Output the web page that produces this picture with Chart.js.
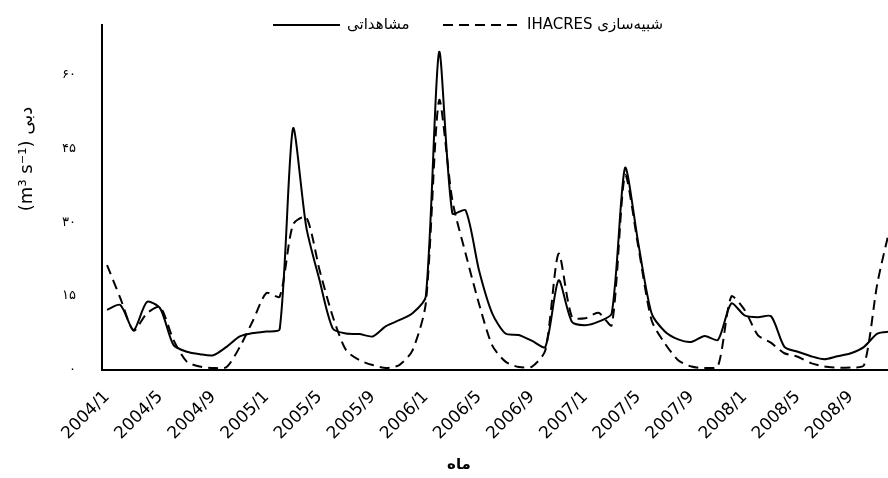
<!DOCTYPE html>
<html>
<head>
<meta charset="utf-8">
<script src="https://cdn.jsdelivr.net/npm/chart.js@4.4.1/dist/chart.umd.min.js"></script>
<style>
    html, body { margin: 0; padding: 0; background: #fff; }
    canvas { display: block; }
</style>
</head>
<body>
<canvas id="chart" width="888" height="478"></canvas>
<script>
    // monthly discharge, 2004/1 .. 2008/12
    var months = [
        '2004/1', '2004/2', '2004/3', '2004/4', '2004/5', '2004/6', '2004/7', '2004/8', '2004/9', '2004/10', '2004/11', '2004/12',
        '2005/1', '2005/2', '2005/3', '2005/4', '2005/5', '2005/6', '2005/7', '2005/8', '2005/9', '2005/10', '2005/11', '2005/12',
        '2006/1', '2006/2', '2006/3', '2006/4', '2006/5', '2006/6', '2006/7', '2006/8', '2006/9', '2006/10', '2006/11', '2006/12',
        '2007/1', '2007/2', '2007/3', '2007/4', '2007/5', '2007/6', '2007/7', '2007/8', '2007/9', '2007/10', '2007/11', '2007/12',
        '2008/1', '2008/2', '2008/3', '2008/4', '2008/5', '2008/6', '2008/7', '2008/8', '2008/9', '2008/10', '2008/11', '2008/12'
    ];

    var observed = [
        12.2, 13.2, 8.1, 13.8, 12.5, 5.1, 3.7, 3.2, 3.0, 4.7, 6.8, 7.5,
        7.8, 8.3, 49, 29, 18.2, 8.4, 7.4, 7.3, 6.8, 8.9, 10.1, 11.5,
        14.9, 64.5, 31.8, 32.4, 20.3, 11.5, 7.4, 7.1, 5.9, 4.7, 18.2, 9.8,
        9.1, 9.8, 11.5, 41, 25.7, 11.5, 7.8, 6.2, 5.7, 6.9, 6.1, 13.5,
        11.1, 10.7, 10.9, 4.7, 3.7, 2.8, 2.2, 2.8, 3.4, 4.7, 7.4, 7.8
    ];

    var simulated = [
        21.3, 14.6, 8.0, 11.5, 12.8, 6.1, 1.7, 0.7, 0.4, 0.6, 4.7, 10.1,
        15.6, 14.9, 29.5, 31, 20.3, 10.8, 4.0, 2.0, 1.0, 0.4, 1.0, 4.0,
        13.5, 54.7, 34.4, 23.6, 13.5, 5.0, 1.7, 0.6, 0.7, 4.0, 23.6, 10.8,
        10.5, 11.6, 9.1, 39.5, 25, 10.1, 5.4, 2.0, 0.7, 0.4, 0.8, 14.9,
        12.2, 7.1, 5.5, 3.4, 2.7, 1.4, 0.7, 0.5, 0.5, 1.0, 17.6, 29.5
    ];

    // x ticks every 4 months
    var xTickIndex = [0, 4, 8, 12, 16, 20, 24, 28, 32, 36, 40, 44, 48, 52, 56];
    var yTickValues = [0, 15, 30, 45, 60];
    var yTickLabels = ['۰', '۱۵', '۳۰', '۴۵', '۶۰'];

    var seriesNames = ['مشاهداتی', 'IHACRES شبیه‌سازی'];
    var yTitle = '(m³ s⁻¹) دبی';
    var xTitle = 'ماه';

    var FONT = "'DejaVu Sans', 'Liberation Sans', sans-serif";

    function toPoints(values) {
        return values.map(function (v, i) { return { x: i, y: v }; });
    }

    // legend and axis titles, drawn by hand so they sit where the original has them
    var decorations = {
        id: 'decorations',
        afterDraw: function (chart) {
            var ctx = chart.ctx;
            var sets = chart.data.datasets;
            var legendY = 25;
            var items = [
                { x0: 273, x1: 340, tx: 347 },
                { x0: 443, x1: 520, tx: 527 }
            ];

            ctx.save();
            ctx.fillStyle = '#000';
            ctx.font = '15px ' + FONT;
            ctx.textBaseline = 'middle';
            ctx.textAlign = 'left';
            items.forEach(function (it, i) {
                ctx.beginPath();
                ctx.strokeStyle = '#000';
                ctx.lineWidth = sets[i].borderWidth;
                ctx.setLineDash(sets[i].borderDash || []);
                ctx.moveTo(it.x0, legendY);
                ctx.lineTo(it.x1, legendY);
                ctx.stroke();
                ctx.fillText(sets[i].label, it.tx, legendY);
            });
            ctx.setLineDash([]);

            // y title
            ctx.save();
            ctx.translate(27, 159);
            ctx.rotate(-Math.PI / 2);
            ctx.textAlign = 'center';
            ctx.font = '18px ' + FONT;
            ctx.fillText(yTitle, 0, 0);
            ctx.restore();

            // x title
            ctx.textAlign = 'center';
            ctx.font = 'bold 15px ' + FONT;
            ctx.fillText(xTitle, 459, 465);
            ctx.restore();
        }
    };

    var chart = new Chart(document.getElementById('chart').getContext('2d'), {
        type: 'line',
        data: {
            datasets: [{
                label: seriesNames[0],
                data: toPoints(observed),
                borderColor: '#000',
                borderWidth: 2,
                pointRadius: 0,
                tension: 0.25,
                fill: false
            }, {
                label: seriesNames[1],
                data: toPoints(simulated),
                borderColor: '#000',
                borderWidth: 2,
                borderDash: [10, 6],
                pointRadius: 0,
                tension: 0.25,
                fill: false
            }]
        },
        options: {
            responsive: false,
            animation: false,
            devicePixelRatio: 1,
            layout: {
                padding: { top: 25, left: 0, right: 0, bottom: 0 }
            },
            plugins: {
                legend: { display: false },
                tooltip: { enabled: false }
            },
            scales: {
                x: {
                    type: 'linear',
                    min: -0.38,
                    max: 58.8,
                    afterBuildTicks: function (scale) {
                        scale.ticks = xTickIndex.map(function (v) { return { value: v }; });
                    },
                    afterFit: function (scale) { scale.height = 108; },
                    ticks: {
                        autoSkip: false,
                        maxRotation: 45,
                        minRotation: 45,
                        padding: 17,
                        color: '#000',
                        font: { family: FONT, size: 17 },
                        callback: function (value) { return months[value]; }
                    },
                    grid: { display: false, drawTicks: false },
                    border: { color: '#000', width: 2 }
                },
                y: {
                    min: 0,
                    max: 70,
                    afterBuildTicks: function (scale) {
                        scale.ticks = yTickValues.map(function (v) { return { value: v }; });
                    },
                    afterFit: function (scale) {
                        scale.width = 102;
                        // tick padding would otherwise push the plot top down
                        scale.paddingTop = 0;
                        scale.paddingBottom = 0;
                    },
                    ticks: {
                        padding: 26,
                        color: '#000',
                        font: { family: FONT, size: 13 },
                        callback: function (value) { return yTickLabels[yTickValues.indexOf(value)]; }
                    },
                    grid: { display: false, drawTicks: false },
                    border: { color: '#000', width: 2 }
                }
            }
        },
        plugins: [decorations]
    });
</script>
</body>
</html>
